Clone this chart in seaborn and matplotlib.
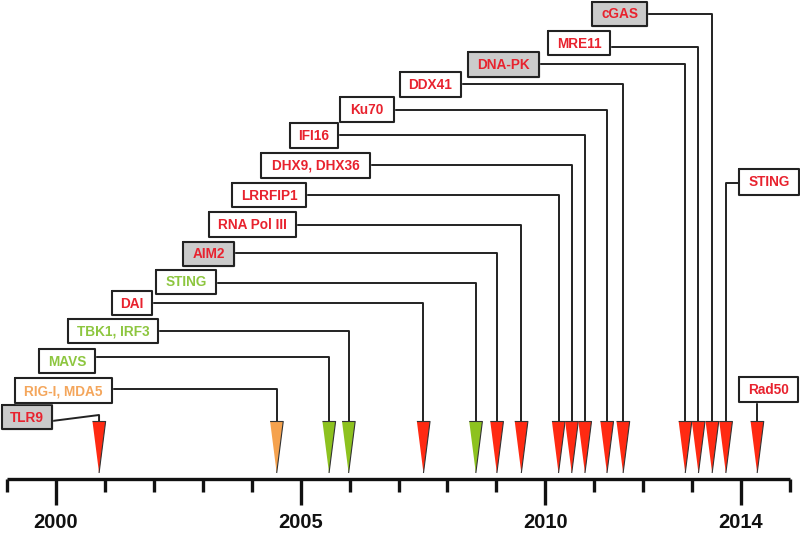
import matplotlib
matplotlib.use("Agg")
import matplotlib.pyplot as plt
import seaborn as sns
import pandas as pd
import numpy as np

# ---------------- data ----------------
labels = ["TLR9", "RIG-I, MDA5", "MAVS", "TBK1, IRF3", "DAI", "STING", "AIM2",
          "RNA Pol III", "LRRFIP1", "DHX9, DHX36", "IFI16", "Ku70", "DDX41",
          "DNA-PK", "MRE11", "cGAS", "STING", "Rad50"]
years = [2000.88, 2004.51, 2005.58, 2005.98, 2007.51, 2008.58, 2009.01,
         2009.51, 2010.27, 2010.54, 2010.81, 2011.26, 2011.59,
         2012.86, 2013.13, 2013.41, 2013.69, 2014.33]
groups = ["red", "orange", "green", "green", "red", "green", "red",
          "red", "red", "red", "red", "red", "red",
          "red", "red", "red", "red", "red"]
highlighted = [True, False, False, False, False, False, True,
               False, False, False, False, False, False,
               True, False, True, False, False]
tick_years = list(range(1999, 2016))
labeled_years = [2000, 2005, 2010, 2014]

# ---------------- layout (pixel-like coordinates, y downwards) ----------------
box_left   = [2, 15, 39, 68, 112, 156, 183, 209, 232, 261, 290, 340, 400, 468, 548, 592, 739, 739]
box_right  = [52, 112, 95, 158, 152, 216, 234, 296, 306, 370, 338, 394, 461, 539, 610, 647, 799, 798]
box_top    = [405, 378, 349, 319, 291, 270, 242, 212, 183, 153, 123, 97, 72, 52, 31, 2, 169, 377]
box_bottom = [429, 403, 373, 343, 315, 294, 266, 237, 207, 178, 148, 122, 97, 77, 55, 26, 195, 402]
line_y     = [415, 389, 357, 331, 303, 283, 253, 225, 195, 165, 135, 110, 84, 64, 47, 14, 183, None]
line_y0    = [421, 389, 357, 331, 303, 283, 253, 225, 195, 165, 135, 110, 84, 64, 47, 14, 183, None]
line_side  = ["right"] * 16 + ["left", "bottom"]

arrow_fill = {"red": "#ff2a12", "green": "#8dc21f", "orange": "#f5a24e"}
text_color = {"red": "#e8222e", "green": "#8dc63f", "orange": "#f4a65c"}

# px <-> year mapping
PX0, PPY = 56.0, 48.93
def xpx_to_year(p):
    return 2000 + (p - PX0) / PPY

sns.set_theme(style="white")
plt.rcParams["font.family"] = ["Liberation Sans", "DejaVu Sans"]

fig = plt.figure(figsize=(8, 5.34), dpi=100)
ax = fig.add_axes([0, 0, 1, 1])
ax.set_xlim(xpx_to_year(0), xpx_to_year(800))
ax.set_ylim(534, 0)
ax.axis("off")

df = pd.DataFrame({"label": labels, "year": years, "group": groups,
                   "hl": highlighted})

ARROW_TOP, ARROW_BOT = 421.5, 473.0
AXIS_Y = 479

# arrows (elongated downward triangles) via seaborn scatter
tri = [(-0.255, 1.0), (0.255, 1.0), (0.0, -1.0)]
h_pt = (ARROW_BOT - ARROW_TOP) * 0.72
df["ay"] = (ARROW_TOP + ARROW_BOT) / 2
sns.scatterplot(data=df, x="year", y="ay", hue="group", palette=arrow_fill,
                marker=tri, s=h_pt ** 2, edgecolor="#333333", linewidth=0.8,
                legend=False, ax=ax, zorder=5)

# time axis
ax.plot([tick_years[0], tick_years[-1]], [AXIS_Y, AXIS_Y], color="#111111",
        lw=2.4, solid_capstyle="butt", zorder=4)
for ty in tick_years:
    long = ty in labeled_years
    ax.plot([ty, ty], [AXIS_Y, 505 if long else 492], color="#111111",
            lw=2.4, solid_capstyle="butt", zorder=4)
    if long:
        ax.text(ty, 523, str(ty), ha="center", va="center", fontsize=14.5,
                fontweight="bold", color="#111111")

# label boxes + connectors
for i, row in df.iterrows():
    l, r, t, b = box_left[i], box_right[i], box_top[i], box_bottom[i]
    yl, yr_ = xpx_to_year(l), xpx_to_year(r)
    fc = "#cbcbcb" if row["hl"] else "white"
    ax.fill([yl, yr_, yr_, yl, yl], [t, t, b, b, t], color=fc, zorder=3)
    ax.plot([yl, yr_, yr_, yl, yl], [t, t, b, b, t], color="#222222", lw=1.5,
            zorder=3)
    ax.text((yl + yr_) / 2, (t + b) / 2 + 0.5, row["label"], ha="center",
            va="center", fontsize=9.8, fontweight="bold",
            color=text_color[row["group"]], zorder=4)
    side = line_side[i]
    if side == "right":
        xs = [yr_, row["year"], row["year"]]
        ys = [line_y0[i], line_y[i], ARROW_TOP]
    elif side == "left":
        xs = [yl, row["year"], row["year"]]
        ys = [line_y0[i], line_y[i], ARROW_TOP]
    else:
        xs = [row["year"], row["year"]]
        ys = [b, ARROW_TOP]
    ax.plot(xs, ys, color="#222222", lw=1.4, zorder=2)

fig.savefig("out.png", dpi=100)
